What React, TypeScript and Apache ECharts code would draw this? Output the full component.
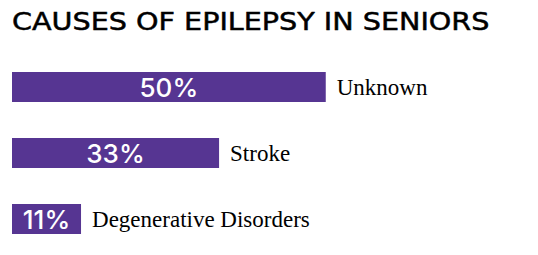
import React, { useEffect, useRef } from "react";
import * as echarts from "echarts";

const titleText = "CAUSES OF EPILEPSY IN SENIORS";
const categories = ["Unknown", "Stroke", "Degenerative Disorders"];
const values = [50, 33, 11];
const barColor = "#563592";

export default function App() {
  const ref = useRef<HTMLDivElement>(null);
  useEffect(() => {
    if (!ref.current) return;
    const chart = echarts.init(ref.current, undefined, { renderer: "svg" });
    chart.setOption({
      animation: false,
      backgroundColor: "#ffffff",
      graphic: [
        {
          type: "text",
          x: 12,
          y: 9,
          scaleX: 1.145,
          style: {
            text: titleText,
            fontFamily: "DejaVu Sans",
            fontSize: 25,
            fontWeight: "normal",
            fill: "#000000",
            stroke: "#000000",
            lineWidth: 0.5,
            verticalAlign: "top",
            align: "left",
          },
        },
      ],
      grid: { left: 12, right: 24, top: 54, bottom: 3 },
      xAxis: {
        type: "value",
        min: 0,
        max: 80,
        show: false,
      },
      yAxis: {
        type: "category",
        data: categories,
        inverse: true,
        show: false,
      },
      series: [
        {
          type: "bar",
          data: values,
          barWidth: 30,
          itemStyle: { color: barColor },
          label: {
            show: true,
            position: "inside",
            formatter: (p: any) => p.value + "%",
            color: "#ffffff",
            fontFamily: "Inter",
            fontWeight: 500,
            fontSize: 26,
          },
        },
        {
          type: "bar",
          data: values,
          barWidth: 30,
          barGap: "-100%",
          itemStyle: { color: "transparent" },
          label: {
            show: true,
            position: "right",
            distance: 11,
            formatter: (p: any) => categories[p.dataIndex],
            color: "#000000",
            fontFamily: "Liberation Serif",
            fontSize: 23,
          },
          silent: true,
        },
      ],
    });
    return () => chart.dispose();
  }, []);
  return (
    <div
      ref={ref}
      style={{ position: "fixed", left: 0, top: 0, width: 538, height: 255 }}
    />
  );
}
